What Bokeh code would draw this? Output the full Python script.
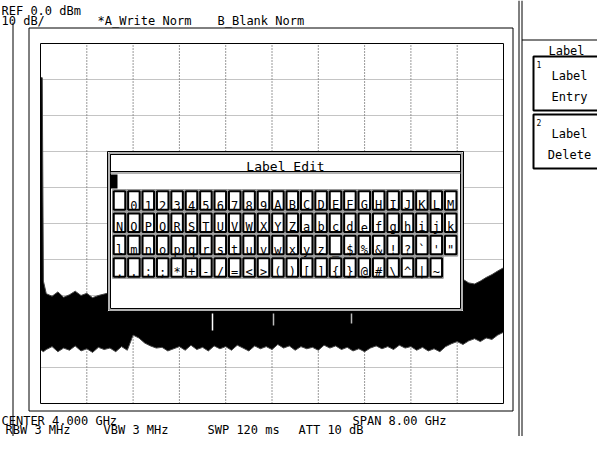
from bokeh.plotting import figure
from bokeh.models import Range1d
from bokeh.embed import file_html
from bokeh.resources import INLINE
from bokeh.core.properties import value

FONT = "DejaVu Sans Mono"

# ---------------- data ----------------
ref_level_dbm = 0.0
db_per_div = 10
n_vdiv = 10
center_ghz = 4.0
span_ghz = 8.0

freq_ghz = [0.0, 0.03, 0.05,
            0.1, 0.2, 0.3, 0.4, 0.5, 0.6, 0.7, 0.8, 0.9, 1.0,
            1.1, 1.2, 1.3, 1.4, 1.5, 1.6, 1.7, 1.8, 1.9, 2.0,
            2.1, 2.2, 2.3, 2.4, 2.5, 2.6, 2.7, 2.8, 2.9, 3.0,
            3.1, 3.2, 3.3, 3.4, 3.5, 3.6, 3.7, 3.8, 3.9, 4.0,
            4.1, 4.2, 4.3, 4.4, 4.5, 4.6, 4.7, 4.8, 4.9, 5.0,
            5.1, 5.2, 5.3, 5.4, 5.5, 5.6, 5.7, 5.8, 5.9, 6.0,
            6.1, 6.2, 6.3, 6.4, 6.5, 6.6, 6.7, 6.8, 6.9, 7.0,
            7.1, 7.2, 7.3, 7.4, 7.5, 7.6, 7.7, 7.8, 7.9, 8.0]

trace_upper_dbm = [-9.5, -9.5, -66.0,
                   -69.5, -70.2, -69.0, -70.5, -69.8, -68.8, -70.0, -69.4, -70.6, -70.0,
                   -69.6, -69.2, -69.8, -69.0, -69.4, -68.8, -69.2, -68.6, -69.0, -68.4,
                   -68.8, -68.2, -68.6, -68.0, -68.4, -67.8, -68.2, -67.6, -68.0, -67.4,
                   -67.8, -67.2, -67.6, -67.0, -67.4, -66.8, -67.2, -66.6, -67.0, -66.4,
                   -66.8, -66.2, -66.6, -66.0, -66.4, -65.8, -66.2, -65.6, -66.0, -65.4,
                   -65.8, -65.2, -65.6, -65.0, -65.4, -64.8, -65.2, -64.6, -65.0, -64.4,
                   -64.8, -64.2, -64.6, -64.0, -64.4, -63.8, -64.2, -63.6, -64.0, -63.4,
                   -63.8, -64.6, -65.5, -66.5, -66.8, -66.0, -65.0, -64.2, -63.2, -62.3]

trace_lower_dbm = [-85.0, -85.4, -85.6,
                   -85.0, -84.2, -85.6, -84.6, -85.2, -84.0, -85.4, -84.8, -85.8, -84.4,
                   -85.0, -84.6, -85.6, -84.2, -85.2, -81.0, -81.8, -83.2, -84.0, -84.6,
                   -84.4, -85.4, -84.8, -84.2, -85.2, -83.8, -85.0, -84.4, -85.4, -84.0,
                   -84.8, -84.2, -85.2, -83.8, -84.6, -85.4, -84.0, -84.8, -84.2, -85.0,
                   -83.6, -84.6, -84.0, -85.2, -84.2, -84.8, -84.4, -85.2, -83.8, -84.6,
                   -84.0, -85.0, -84.4, -85.4, -84.8, -85.6, -84.6, -84.0, -84.8, -84.2,
                   -85.0, -83.8, -84.6, -84.2, -85.2, -84.4, -85.4, -84.8, -85.6, -84.2,
                   -83.4, -82.8, -83.6, -82.6, -82.0, -82.8, -81.8, -82.2, -81.0, -80.2]

freq_grid_ghz = [0.8, 1.6, 2.4, 3.2, 4.0, 4.8, 5.6, 6.4, 7.2]
level_grid_dbm = [-10, -20, -30, -40, -50, -60, -70, -80, -90]

top_texts = ["REF 0.0 dBm", "10 dB/", "*A_Write Norm", "B_Blank Norm"]
bottom_texts = ["CENTER 4.000 GHz", "SPAN 8.00 GHz",
                "RBW 3 MHz", "VBW 3 MHz", "SWP 120 ms", "ATT 10 dB"]
dialog_title = "Label Edit"
key_rows = [
    [" ", "0", "1", "2", "3", "4", "5", "6", "7", "8", "9",
     "A", "B", "C", "D", "E", "F", "G", "H", "I", "J", "K", "L", "M"],
    list("NOPQRSTUVWXYZabcdefghijk"),
    list("lmnopqrstuvwxyz_$%&!?") + ["`", "'", '"'],
    list(",.:;*+-/=<>()[]{}@#\\^|~"),
]
menu_title = "Label"
softkeys = [("1", "Label", "Entry"), ("2", "Label", "Delete")]

# ---------------- layout (screen pixels) ----------------
W, H = 597, 436
GL, GR, GT, GB = 40, 503, 43, 403  # graticule

p = figure(width=W, height=H,
           x_range=Range1d(0, W), y_range=Range1d(H, 0),
           output_backend="svg", toolbar_location=None, min_border=0,
           x_axis_location=None, y_axis_location=None,
           outline_line_color=None, background_fill_color="white")
p.xgrid.visible = False
p.ygrid.visible = False

f_start = center_ghz - span_ghz / 2
f_end = f_start + span_ghz
bottom_dbm = ref_level_dbm - n_vdiv * db_per_div
px_per_ghz = (GR - GL) / span_ghz
px_per_db = (GB - GT) / (n_vdiv * db_per_div)
p.extra_x_ranges = {"freq": Range1d(f_start + (0 - GL) / px_per_ghz,
                                    f_start + (W - GL) / px_per_ghz)}
p.extra_y_ranges = {"dbm": Range1d(ref_level_dbm - (H - GT) / px_per_db,
                                   ref_level_dbm + (GT - 0) / px_per_db)}
F = dict(x_range_name="freq", y_range_name="dbm")

TXT = dict(text_font=value(FONT), text_color="black", text_baseline="alphabetic")

# frames
p.segment(x0=[12.5], y0=[22], x1=[12.5], y1=[H], line_color="black", line_width=1)
p.quad(left=28.5, right=512.5, top=27.5, bottom=410.5, fill_color=None, line_color="black")
p.segment(x0=[518.5, 521.5], y0=[0, 0], x1=[518.5, 521.5], y1=[H, H],
          line_color="black", line_width=1)

# graticule
p.segment(x0=freq_grid_ghz, y0=[bottom_dbm] * len(freq_grid_ghz),
          x1=freq_grid_ghz, y1=[ref_level_dbm] * len(freq_grid_ghz),
          line_color="#333333", line_dash="1 2", line_width=1, **F)
p.segment(x0=[f_start] * len(level_grid_dbm), y0=level_grid_dbm,
          x1=[f_end] * len(level_grid_dbm), y1=level_grid_dbm,
          line_color="#888888", line_dash="1 1", line_width=1, **F)

# trace
p.varea(x=freq_ghz, y1=trace_lower_dbm, y2=trace_upper_dbm, fill_color="black", **F)
p.line(freq_ghz, trace_upper_dbm, line_color="#444444", line_width=1, **F)
p.line(freq_ghz, trace_lower_dbm, line_color="#444444", line_width=1, **F)

p.quad(left=f_start, right=f_end, top=ref_level_dbm, bottom=bottom_dbm,
       fill_color=None, line_color="black", line_width=1, **F)

# small artefacts in noise below the dialog
p.segment(x0=[212, 273, 351], y0=[313, 313, 313], x1=[212, 273, 351], y1=[330, 325, 323],
          line_color=["white", "#bbbbbb", "#bbbbbb"], line_width=1.5)

# dialog
DL, DR, DT, DB = 107, 463, 151, 311
p.quad(left=DL, right=DR, top=DT, bottom=DB, fill_color="white", line_color="black", line_width=1)
p.quad(left=DL + 1.5, right=DR - 1.5, top=DT + 1.5, bottom=DB - 1.5,
       fill_color=None, line_color="#999999", line_width=1.5)
p.quad(left=DL + 3, right=DR - 3, top=DT + 3, bottom=DB - 3,
       fill_color=None, line_color="black", line_width=1)
p.quad(left=DL + 3, right=DR - 3, top=DT + 3, bottom=DT + 20,
       fill_color=None, line_color="black", line_width=1)
p.segment(x0=[DL + 3], y0=[DT + 21.5], x1=[DR - 3], y1=[DT + 21.5],
          line_color="#999999", line_width=1.5)
p.text(x=[(DL + DR) / 2], y=[DT + 15], text=[dialog_title], text_font_size="13px",
       text_align="center", **TXT)
p.quad(left=110, right=117, top=DT + 23, bottom=DT + 37, fill_color="black", line_color=None)

# keys
KX0, KP = 119.0, 14.4
KY = [200, 222.3, 244.6, 266.9]
kx, ky, kt = [], [], []
for r, row in enumerate(key_rows):
    for c, ch in enumerate(row):
        kx.append(KX0 + c * KP)
        ky.append(KY[r])
        kt.append(ch)
p.rect(x=kx, y=ky, width=14, height=22, fill_color="#c8c8c8", line_color="#999999", line_width=1)
p.rect(x=kx, y=ky, width=11.5, height=18.5, fill_color="white", line_color="black", line_width=2)
p.text(x=kx, y=[v + 4.5 for v in ky], text=kt, text_font_size="12px", text_align="center", **TXT)

# header/footer texts
p.text(x=[1, 1, 97, 217], y=[10, 20.5, 20.5, 20.5], text=top_texts, text_font_size="12px", **TXT)
p.text(x=[1, 352], y=[420.5, 420.5], text=bottom_texts[:2], text_font_size="12px", **TXT)
p.text(x=[5, 103, 207, 298], y=[429] * 4, text=bottom_texts[2:], text_font_size="12px", **TXT)

# soft-key panel
p.segment(x0=[521.5], y0=[39.5], x1=[W + 10], y1=[39.5], line_color="black", line_width=1)
p.text(x=[566], y=[50], text=[menu_title], text_font_size="12px", text_align="center", **TXT)
BT = [56, 114]
for i, (num, l1, l2) in enumerate(softkeys):
    t = BT[i]
    p.quad(left=533, right=W + 10, top=t, bottom=t + 54, fill_color="white",
           line_color="black", line_width=2)
    p.text(x=[536], y=[t + 8], text=[num], text_font_size="8px", **TXT)
    p.text(x=[569, 569], y=[t + 19, t + 40], text=[l1, l2], text_font_size="12px",
           text_align="center", **TXT)

open("out.html", "w").write(file_html(p, INLINE))
